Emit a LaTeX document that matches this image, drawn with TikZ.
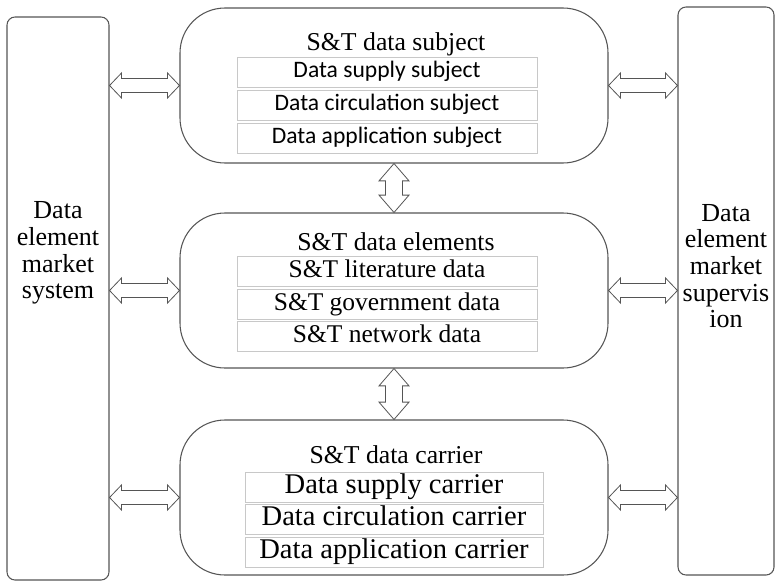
\documentclass[tikz,border=0pt]{standalone}
\usepackage{fontspec}
\setmainfont{Liberation Serif}
\newfontfamily\calfont{Carlito}
\usetikzlibrary{calc}

\definecolor{linegray}{RGB}{85,85,85}
\definecolor{rowgray}{RGB}{200,200,200}

\tikzset{
  head len/.store in=\fh, head wid/.store in=\fH, shaft wid/.store in=\fs,
  head len=9pt, head wid=9.4pt, shaft wid=5.2pt,
  fatarrow/.style={draw=linegray, line width=0.6pt,
    to path={let \p1=(\tikztostart), \p2=(\tikztotarget),
      \n1={atan2(\y2-\y1,\x2-\x1)}, \n2={veclen(\x2-\x1,\y2-\y1)} in
      (\p1) -- ++($(\n1:\fh)+(\n1+90:\fH)$) -- ++(\n1-90:\fH-\fs)
      -- ++(\n1:\n2-2*\fh) -- ++(\n1+90:\fH-\fs) -- (\p2)
      -- ++($(\n1+180:\fh)+(\n1-90:\fH)$) -- ++(\n1+90:\fH-\fs)
      -- ++(\n1+180:\n2-2*\fh) -- ++(\n1-90:\fH-\fs) -- cycle}},
  layerbox/.style={draw=linegray, line width=0.8pt, rounded corners=33.75pt,
    minimum width=321pt, minimum height=116.25pt},
  sidebox/.style={draw=linegray, line width=0.8pt, rounded corners=6pt},
  sidetext/.style={align=center, font=\fontsize{19.5}{20}\selectfont},
  title/.style={font=\fontsize{19.3}{22}\selectfont},
  rowbox/.style={draw=rowgray, line width=0.6pt, minimum width=225pt,
    minimum height=22.5pt, inner sep=0pt},
}

\begin{document}
\begin{tikzpicture}[x=0.75pt, y=-0.75pt]
\useasboundingbox (0,0) rectangle (775,582);

% market system and supervision
\node[sidebox, minimum width=76.5pt, minimum height=422.25pt] (sys) at (58,298.5) {};
\node[sidebox, minimum width=72pt, minimum height=426pt] (sup) at (726,291) {};
\node[sidetext] (sysT) at (58,253) {Data\\element\\market\\system};
\node[sidetext] (supT) at (726,266) {Data\\element\\market\\supervis\\ion};

% the three layers
\node[layerbox] (subj) at (394,85.5) {};
\node[layerbox] (elem) at (394,290.5) {};
\node[layerbox] (carr) at (394,497.5) {};

\node[title] (subjT) at (396,44) {S\&T data subject};
\node[title] (elemT) at (396,242) {S\&T data elements};
\node[title] (carrT) at (396,455) {S\&T data carrier};

\foreach \txt/\y [count=\i] in {Data supply subject/72,
    Data circulation subject/105, Data application subject/138}
  \node[rowbox, text height=12.2pt, text depth=3.6pt,
    font=\calfont\fontsize{17.7}{20}\selectfont] (s\i) at (387,\y) {\txt};
\foreach \txt/\y [count=\i] in {S\&T literature data/271.5,
    S\&T government data/304, S\&T network data/336}
  \node[rowbox, text height=13.2pt, text depth=4pt,
    font=\fontsize{19.1}{22}\selectfont] (e\i) at (387,\y) {\txt};
\foreach \txt/\y [count=\i] in {Data supply carrier/487,
    Data circulation carrier/519, Data application carrier/552}
  \node[rowbox, minimum width=223.5pt, text height=14.6pt, text depth=4.4pt,
    font=\fontsize{21.4}{24}\selectfont] (c\i) at (394,\y) {\txt};

% double arrows
\draw[fatarrow] (sys.east |- subj.west) to (subj.west);
\draw[fatarrow] (sys.east |- elem.west) to (elem.west);
\draw[fatarrow] (sys.east |- carr.west) to (carr.west);
\draw[fatarrow] (subj.east) to (sup.west |- subj.east);
\draw[fatarrow] (elem.east) to (sup.west |- elem.east);
\draw[fatarrow] (carr.east) to (sup.west |- carr.east);
\draw[fatarrow, head len=13pt, head wid=11.25pt, shaft wid=6.4pt] (subj.south) to (elem.north);
\draw[fatarrow, head len=13pt, head wid=11.25pt, shaft wid=6.4pt] (elem.south) to (carr.north);
\end{tikzpicture}
\end{document}
